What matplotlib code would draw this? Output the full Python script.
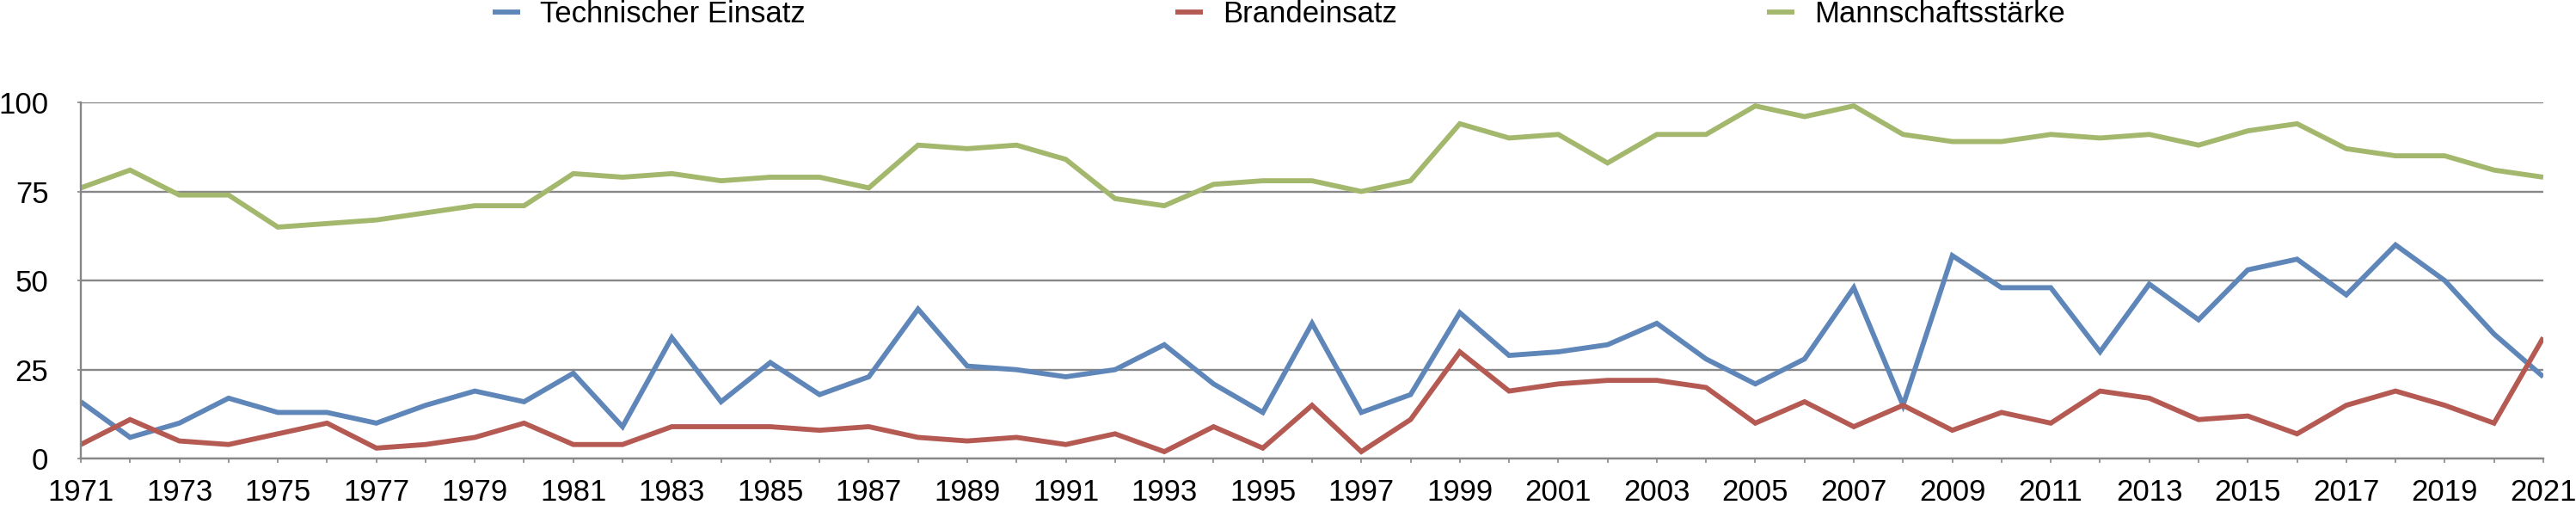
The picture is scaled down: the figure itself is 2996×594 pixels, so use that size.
import numpy as np
import matplotlib
matplotlib.use('Agg')
import matplotlib.pyplot as plt

plt.rcParams['font.family'] = ['Liberation Sans', 'DejaVu Sans']

years = list(range(1971, 2022))

technischer = [16, 6, 10, 17, 13, 13, 10, 15, 19, 16,
               24, 9, 34, 16, 27, 18, 23, 42, 26, 25,
               23, 25, 32, 21, 13, 38, 13, 18, 41, 29,
               30, 32, 38, 28, 21, 28, 48, 15, 57, 48,
               48, 30, 49, 39, 53, 56, 46, 60, 50, 35,
               23]

brand = [4, 11, 5, 4, 7, 10, 3, 4, 6, 10,
         4, 4, 9, 9, 9, 8, 9, 6, 5, 6,
         4, 7, 2, 9, 3, 15, 2, 11, 30, 19,
         21, 22, 22, 20, 10, 16, 9, 15, 8, 13,
         10, 19, 17, 11, 12, 7, 15, 19, 15, 10,
         34]

mannschaft = [76, 81, 74, 74, 65, 66, 67, 69, 71, 71,
              80, 79, 80, 78, 79, 79, 76, 88, 87, 88,
              84, 73, 71, 77, 78, 78, 75, 78, 94, 90,
              91, 83, 91, 91, 99, 96, 99, 91, 89, 89,
              91, 90, 91, 88, 92, 94, 87, 85, 85, 81,
              79]

series_names = ['Technischer Einsatz', 'Brandeinsatz', 'Mannschaftsstärke']
colors = ['#5F86B9', '#B55A53', '#A3B86D']
grid_col = '#878787'

fig = plt.figure(figsize=(29.96, 5.94), dpi=100)
ax = fig.add_axes([0.03137, 0.1022, 0.9873 - 0.03137, 0.7997 - 0.1022])

for vals, name, c in zip([technischer, brand, mannschaft], series_names, colors):
  ax.plot(years, vals, color=c, lw=4.2, label=name, solid_joinstyle='miter',
          solid_capstyle='butt')

ax.set_xlim(1971, 2021)
ax.set_ylim(0, 100)
ax.set_yticks([0, 25, 50, 75, 100])
ax.set_xticks(years)
ax.set_xticklabels([str(y) if (y - 1971) % 2 == 0 else '' for y in years])

ax.grid(axis='y', color=grid_col, lw=1.7)
ax.set_axisbelow(True)
for s in ['top', 'right']:
  ax.spines[s].set_visible(False)
for s in ['left', 'bottom']:
  ax.spines[s].set_color(grid_col)
  ax.spines[s].set_linewidth(1.7)

ax.tick_params(axis='x', length=3.6, width=1.2, color=grid_col, pad=13, labelsize=25)
ax.tick_params(axis='y', length=3, width=1.2, color=grid_col, pad=24, labelsize=25)

fig.legend(loc='center left', bbox_to_anchor=(573 / 2996, 1 - 17 / 594), ncol=3,
           frameon=False, fontsize=25, borderpad=0, borderaxespad=0,
           handlelength=0.92, handletextpad=0.66, columnspacing=12.4)

plt.savefig('out.png', dpi=100)
